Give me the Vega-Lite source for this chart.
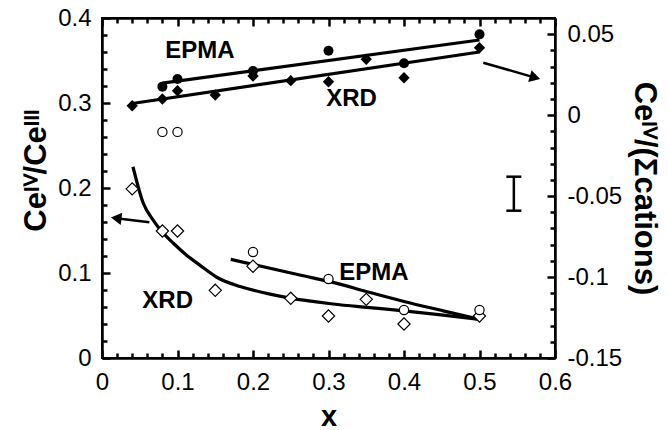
{
  "$schema": "https://vega.github.io/schema/vega-lite/v6.json",
  "width": 453,
  "height": 340,
  "autosize": {"type": "none"},
  "padding": {"left": 102, "top": 18, "right": 113, "bottom": 72},
  "background": "white",
  "config": {"view": {"stroke": "black", "strokeWidth": 2}},
  "resolve": {"scale": {"y": "independent"}, "axis": {"x": "independent", "y": "independent"}},
  "layer": [
    {
      "data": {"values": [
        {"x": 0.041, "y": 0.225}, {"x": 0.0547, "y": 0.182}, {"x": 0.068, "y": 0.162}, {"x": 0.079, "y": 0.149},
        {"x": 0.0945, "y": 0.135}, {"x": 0.112, "y": 0.121}, {"x": 0.13, "y": 0.109}, {"x": 0.152, "y": 0.095},
        {"x": 0.183, "y": 0.084}, {"x": 0.218, "y": 0.076}, {"x": 0.249, "y": 0.0705}, {"x": 0.284, "y": 0.066},
        {"x": 0.306, "y": 0.0635}, {"x": 0.351, "y": 0.0595}, {"x": 0.40, "y": 0.0555}, {"x": 0.452, "y": 0.0505},
        {"x": 0.5, "y": 0.0455}
      ]},
      "mark": {"type": "line", "color": "black", "strokeWidth": 3.2, "interpolate": "monotone"},
      "encoding": {
        "x": {"field": "x", "type": "quantitative", "scale": {"domain": [0, 0.6], "nice": false, "zero": false},
              "axis": {"orient": "top", "values": [0, 0.1, 0.2, 0.3, 0.4, 0.5, 0.6], "tickSize": -8, "tickColor": "#000000", "tickWidth": 2.5, "domainColor": "#000000", "domainWidth": 2, "gridOpacity": 0, "labels": false, "title": null}},
        "y": {"field": "y", "type": "quantitative", "scale": {"domain": [0, 0.4], "nice": false, "zero": false}, "axis": null}
      }
    },
    {
      "data": {"values": [
        {"x": 0.1705, "y": 0.116}, {"x": 0.262, "y": 0.0976}, {"x": 0.306, "y": 0.089}, {"x": 0.351, "y": 0.078},
        {"x": 0.40, "y": 0.0665}, {"x": 0.452, "y": 0.0555}, {"x": 0.5, "y": 0.0455}
      ]},
      "mark": {"type": "line", "color": "black", "strokeWidth": 3.2, "interpolate": "monotone"},
      "encoding": {
        "x": {"field": "x", "type": "quantitative", "scale": {"domain": [0, 0.6], "nice": false, "zero": false},
              "axis": {"orient": "top", "values": [0.02, 0.04, 0.06, 0.08, 0.12, 0.14, 0.16, 0.18, 0.22, 0.24, 0.26, 0.28, 0.32, 0.34, 0.36, 0.38, 0.42, 0.44, 0.46, 0.48, 0.52, 0.54, 0.56, 0.58], "tickSize": -5, "tickColor": "#000000", "tickWidth": 2.5, "domainColor": "#000000", "domainWidth": 2, "gridOpacity": 0, "labels": false, "title": null}},
        "y": {"field": "y", "type": "quantitative", "scale": {"domain": [0, 0.4], "nice": false, "zero": false}, "axis": null}
      }
    },
    {
      "data": {"values": [{"x": 0.08, "y": 0.0198}, {"x": 0.5, "y": 0.0464}]},
      "mark": {"type": "line", "color": "black", "strokeWidth": 3.2},
      "encoding": {
        "x": {"field": "x", "type": "quantitative", "scale": {"domain": [0, 0.6], "nice": false, "zero": false}, "axis": null},
        "y": {"field": "y", "type": "quantitative", "scale": {"domain": [-0.15, 0.06], "nice": false, "zero": false}, "axis": null}
      }
    },
    {
      "data": {"values": [{"x": 0.04, "y": 0.0072}, {"x": 0.5, "y": 0.039}]},
      "mark": {"type": "line", "color": "black", "strokeWidth": 3.2},
      "encoding": {
        "x": {"field": "x", "type": "quantitative", "scale": {"domain": [0, 0.6], "nice": false, "zero": false}, "axis": null},
        "y": {"field": "y", "type": "quantitative", "scale": {"domain": [-0.15, 0.06], "nice": false, "zero": false}, "axis": null}
      }
    },
    {
      "data": {"values": [
        {"x": 0.04, "y": 0.199}, {"x": 0.08, "y": 0.1494}, {"x": 0.1, "y": 0.1494}, {"x": 0.15, "y": 0.0796},
        {"x": 0.2, "y": 0.108}, {"x": 0.25, "y": 0.0702}, {"x": 0.3, "y": 0.0494}, {"x": 0.35, "y": 0.069},
        {"x": 0.4, "y": 0.040}, {"x": 0.5, "y": 0.0494}
      ]},
      "mark": {"type": "point", "shape": "diamond", "filled": true, "fill": "white", "stroke": "black", "strokeWidth": 1.2, "size": 150, "opacity": 1},
      "encoding": {
        "x": {"field": "x", "type": "quantitative", "scale": {"domain": [0, 0.6], "nice": false, "zero": false},
              "axis": {"orient": "bottom", "values": [0.02, 0.04, 0.06, 0.08, 0.12, 0.14, 0.16, 0.18, 0.22, 0.24, 0.26, 0.28, 0.32, 0.34, 0.36, 0.38, 0.42, 0.44, 0.46, 0.48, 0.52, 0.54, 0.56, 0.58], "tickSize": -5, "tickColor": "#000000", "tickWidth": 2.5, "domainColor": "#000000", "domainWidth": 2, "gridOpacity": 0, "labels": false, "title": null}},
        "y": {"field": "y", "type": "quantitative", "scale": {"domain": [0, 0.4], "nice": false, "zero": false},
              "axis": {"orient": "left", "values": [0.02, 0.04, 0.06, 0.08, 0.12, 0.14, 0.16, 0.18, 0.22, 0.24, 0.26, 0.28, 0.32, 0.34, 0.36, 0.38], "tickSize": -5, "tickColor": "#000000", "tickWidth": 2.5, "domainColor": "#000000", "domainWidth": 2, "gridOpacity": 0, "labels": false, "title": null}}
      }
    },
    {
      "data": {"values": [
        {"x": 0.08, "y": 0.266}, {"x": 0.1, "y": 0.266}, {"x": 0.2, "y": 0.1247}, {"x": 0.3, "y": 0.093},
        {"x": 0.4, "y": 0.0565}, {"x": 0.5, "y": 0.0565}
      ]},
      "mark": {"type": "point", "shape": "circle", "filled": true, "fill": "white", "stroke": "black", "strokeWidth": 1.2, "size": 85, "opacity": 1},
      "encoding": {
        "x": {"field": "x", "type": "quantitative", "scale": {"domain": [0, 0.6], "nice": false, "zero": false},
              "axis": {"orient": "bottom", "values": [0, 0.1, 0.2, 0.3, 0.4, 0.5, 0.6], "tickSize": -8, "tickColor": "#000000", "tickWidth": 2.5, "domainColor": "#000000", "domainWidth": 2, "gridOpacity": 0,
                       "labelPadding": 20, "labelFlush": false, "labelFont": "Liberation Sans", "labelFontSize": 24, "labelColor": "black", "format": "~g",
                       "title": "x", "titleFont": "Liberation Sans", "titleFontWeight": "bold", "titleColor": "black", "titleFontSize": 29, "titlePadding": 8}},
        "y": {"field": "y", "type": "quantitative", "scale": {"domain": [0, 0.4], "nice": false, "zero": false},
              "axis": {"orient": "left", "values": [0, 0.1, 0.2, 0.3, 0.4], "tickSize": -8, "tickColor": "#000000", "tickWidth": 2.5, "domainColor": "#000000", "domainWidth": 2, "gridOpacity": 0,
                       "labelPadding": 19, "labelFont": "Liberation Sans", "labelFontSize": 24, "labelColor": "black", "format": "~g",
                       "title": "Ceᴵⱽ/Ceᴵᴵᴵ", "titleFont": "Liberation Sans", "titleFontWeight": "bold", "titleColor": "black", "titleFontSize": 31, "titlePadding": 5, "titleY": 152}}
      }
    },
    {
      "data": {"values": [
        {"x": 0.04, "y": 0.0058}, {"x": 0.08, "y": 0.010}, {"x": 0.1, "y": 0.0151}, {"x": 0.15, "y": 0.0124},
        {"x": 0.2, "y": 0.0242}, {"x": 0.25, "y": 0.0213}, {"x": 0.3, "y": 0.0206}, {"x": 0.35, "y": 0.0345},
        {"x": 0.4, "y": 0.0231}, {"x": 0.5, "y": 0.0416}
      ]},
      "mark": {"type": "point", "shape": "diamond", "filled": true, "color": "black", "size": 130, "opacity": 1},
      "encoding": {
        "x": {"field": "x", "type": "quantitative", "scale": {"domain": [0, 0.6], "nice": false, "zero": false}, "axis": null},
        "y": {"field": "y", "type": "quantitative", "scale": {"domain": [-0.15, 0.06], "nice": false, "zero": false},
              "axis": {"orient": "right", "values": [-0.14, -0.13, -0.12, -0.11, -0.09, -0.08, -0.07, -0.06, -0.04, -0.03, -0.02, -0.01, 0.01, 0.02, 0.03, 0.04], "tickSize": -5, "tickColor": "#000000", "tickWidth": 2.5, "domainColor": "#000000", "domainWidth": 2, "gridOpacity": 0, "labels": false, "title": null}}
      }
    },
    {
      "data": {"values": [
        {"x": 0.08, "y": 0.0176}, {"x": 0.1, "y": 0.0223}, {"x": 0.2, "y": 0.0273}, {"x": 0.3, "y": 0.0398},
        {"x": 0.4, "y": 0.032}, {"x": 0.5, "y": 0.0499}
      ]},
      "mark": {"type": "point", "shape": "circle", "filled": true, "color": "black", "size": 100, "opacity": 1},
      "encoding": {
        "x": {"field": "x", "type": "quantitative", "scale": {"domain": [0, 0.6], "nice": false, "zero": false}, "axis": null},
        "y": {"field": "y", "type": "quantitative", "scale": {"domain": [-0.15, 0.06], "nice": false, "zero": false},
              "axis": {"orient": "right", "values": [-0.15, -0.1, -0.05, 0, 0.05], "tickSize": -8, "tickColor": "#000000", "tickWidth": 2.5, "domainColor": "#000000", "domainWidth": 2, "gridOpacity": 0,
                       "labelPadding": 20, "labelFont": "Liberation Sans", "labelFontSize": 24, "labelColor": "black",
                       "labelExpr": "replace(format(datum.value, '~g'), '\u2212', '-')",
                       "title": "Ceᴵⱽ/(Σcations)", "titleFont": "Liberation Sans", "titleFontWeight": "bold", "titleColor": "black", "titleFontSize": 31, "titlePadding": 6}}
      }
    },
    {
      "data": {"values": [
        {"label": "EPMA", "x": 0.1298, "y": 0.3606}, {"label": "XRD", "x": 0.3305, "y": 0.3047},
        {"label": "XRD", "x": 0.087, "y": 0.067}, {"label": "EPMA", "x": 0.3603, "y": 0.100}
      ]},
      "mark": {"type": "text", "font": "Liberation Sans", "fontWeight": "bold", "fontSize": 24, "color": "black", "align": "center", "baseline": "middle"},
      "encoding": {
        "x": {"field": "x", "type": "quantitative", "scale": {"domain": [0, 0.6], "nice": false, "zero": false}, "axis": null},
        "y": {"field": "y", "type": "quantitative", "scale": {"domain": [0, 0.4], "nice": false, "zero": false}, "axis": null},
        "text": {"field": "label"}
      }
    },
    {
      "data": {"values": [
        {"x": 0.505, "y": 0.3474, "x2": 0.5735, "y2": 0.3299},
        {"x": 0.0627, "y": 0.1597, "x2": 0.0188, "y2": 0.1644}
      ]},
      "mark": {"type": "rule", "color": "black", "strokeWidth": 2.5},
      "encoding": {
        "x": {"field": "x", "type": "quantitative", "scale": {"domain": [0, 0.6], "nice": false, "zero": false}, "axis": null},
        "y": {"field": "y", "type": "quantitative", "scale": {"domain": [0, 0.4], "nice": false, "zero": false}, "axis": null},
        "x2": {"field": "x2"},
        "y2": {"field": "y2"}
      }
    },
    {
      "data": {"values": [{"x": 0.5735, "y": 0.3299}]},
      "mark": {"type": "point", "shape": "triangle-right", "angle": 16, "filled": true, "color": "black", "size": 150, "opacity": 1},
      "encoding": {
        "x": {"field": "x", "type": "quantitative", "scale": {"domain": [0, 0.6], "nice": false, "zero": false}, "axis": null},
        "y": {"field": "y", "type": "quantitative", "scale": {"domain": [0, 0.4], "nice": false, "zero": false}, "axis": null}
      }
    },
    {
      "data": {"values": [{"x": 0.0188, "y": 0.1644}]},
      "mark": {"type": "point", "shape": "triangle-left", "angle": 7, "filled": true, "color": "black", "size": 150, "opacity": 1},
      "encoding": {
        "x": {"field": "x", "type": "quantitative", "scale": {"domain": [0, 0.6], "nice": false, "zero": false}, "axis": null},
        "y": {"field": "y", "type": "quantitative", "scale": {"domain": [0, 0.4], "nice": false, "zero": false}, "axis": null}
      }
    },
    {
      "data": {"values": [{"x": 0.5455, "lo": 0.1733, "hi": 0.2133}]},
      "mark": {"type": "rule", "color": "black", "strokeWidth": 2.5},
      "encoding": {
        "x": {"field": "x", "type": "quantitative", "scale": {"domain": [0, 0.6], "nice": false, "zero": false}, "axis": null},
        "y": {"field": "lo", "type": "quantitative", "scale": {"domain": [0, 0.4], "nice": false, "zero": false}, "axis": null},
        "y2": {"field": "hi"}
      }
    },
    {
      "data": {"values": [{"x": 0.5455, "y": 0.1733}, {"x": 0.5455, "y": 0.2133}]},
      "mark": {"type": "tick", "orient": "horizontal", "color": "black", "size": 15, "thickness": 2.5, "opacity": 1},
      "encoding": {
        "x": {"field": "x", "type": "quantitative", "scale": {"domain": [0, 0.6], "nice": false, "zero": false}, "axis": null},
        "y": {"field": "y", "type": "quantitative", "scale": {"domain": [0, 0.4], "nice": false, "zero": false}, "axis": null}
      }
    }
  ]
}
